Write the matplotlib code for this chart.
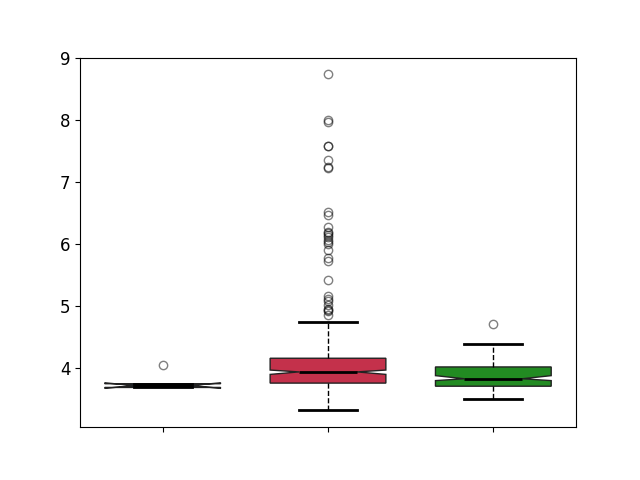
import numpy as np
import matplotlib
matplotlib.use("Agg")
import matplotlib.pyplot as plt

# box statistics
med = [3.72, 3.94, 3.83]
q1 = [3.69, 3.76, 3.71]
q3 = [3.75, 4.16, 4.02]
cilo = [3.675, 3.90, 3.80]
cihi = [3.765, 3.97, 3.88]
whislo = [3.69, 3.32, 3.50]
whishi = [3.75, 4.74, 4.39]
fliers = [
    [4.05],
    [8.74, 8.00, 7.96, 7.57, 7.57, 7.35, 7.24, 7.23, 6.52, 6.46, 6.28,
     6.20, 6.17, 6.15, 6.11, 6.07, 6.03, 6.00, 5.90, 5.77, 5.73, 5.42,
     5.16, 5.11, 5.08, 5.02, 4.96, 4.94, 4.92, 4.86],
    [4.71],
]
colors = ['#1c2433', '#c4314b', '#228b22']

stats = []
for i in range(3):
    stats.append(dict(med=med[i], q1=q1[i], q3=q3[i], cilo=cilo[i], cihi=cihi[i],
                      whislo=whislo[i], whishi=whishi[i], fliers=fliers[i]))

fig, ax = plt.subplots(figsize=(6.4, 4.8), dpi=100)
bp = ax.bxp(stats, positions=[1, 2, 3], widths=0.7, shownotches=True,
            patch_artist=True,
            medianprops=dict(color='black', linewidth=2),
            whiskerprops=dict(color='black', linestyle='--', linewidth=1),
            capprops=dict(color='black', linewidth=2),
            flierprops=dict(marker='o', markerfacecolor='none',
                            markeredgecolor='black', alpha=0.5, markersize=6),
            boxprops=dict(edgecolor='#222222', linewidth=1))
for patch, c in zip(bp['boxes'], colors):
    patch.set_facecolor(c)

ax.set_xticks([1, 2, 3])
ax.set_xticklabels(['', '', ''])
ax.set_xlim(0.5, 3.5)
ax.set_ylim(3.05, 9.0)
ax.set_yticks([4, 5, 6, 7, 8, 9])
ax.tick_params(labelsize=12)

fig.savefig('out.png')
